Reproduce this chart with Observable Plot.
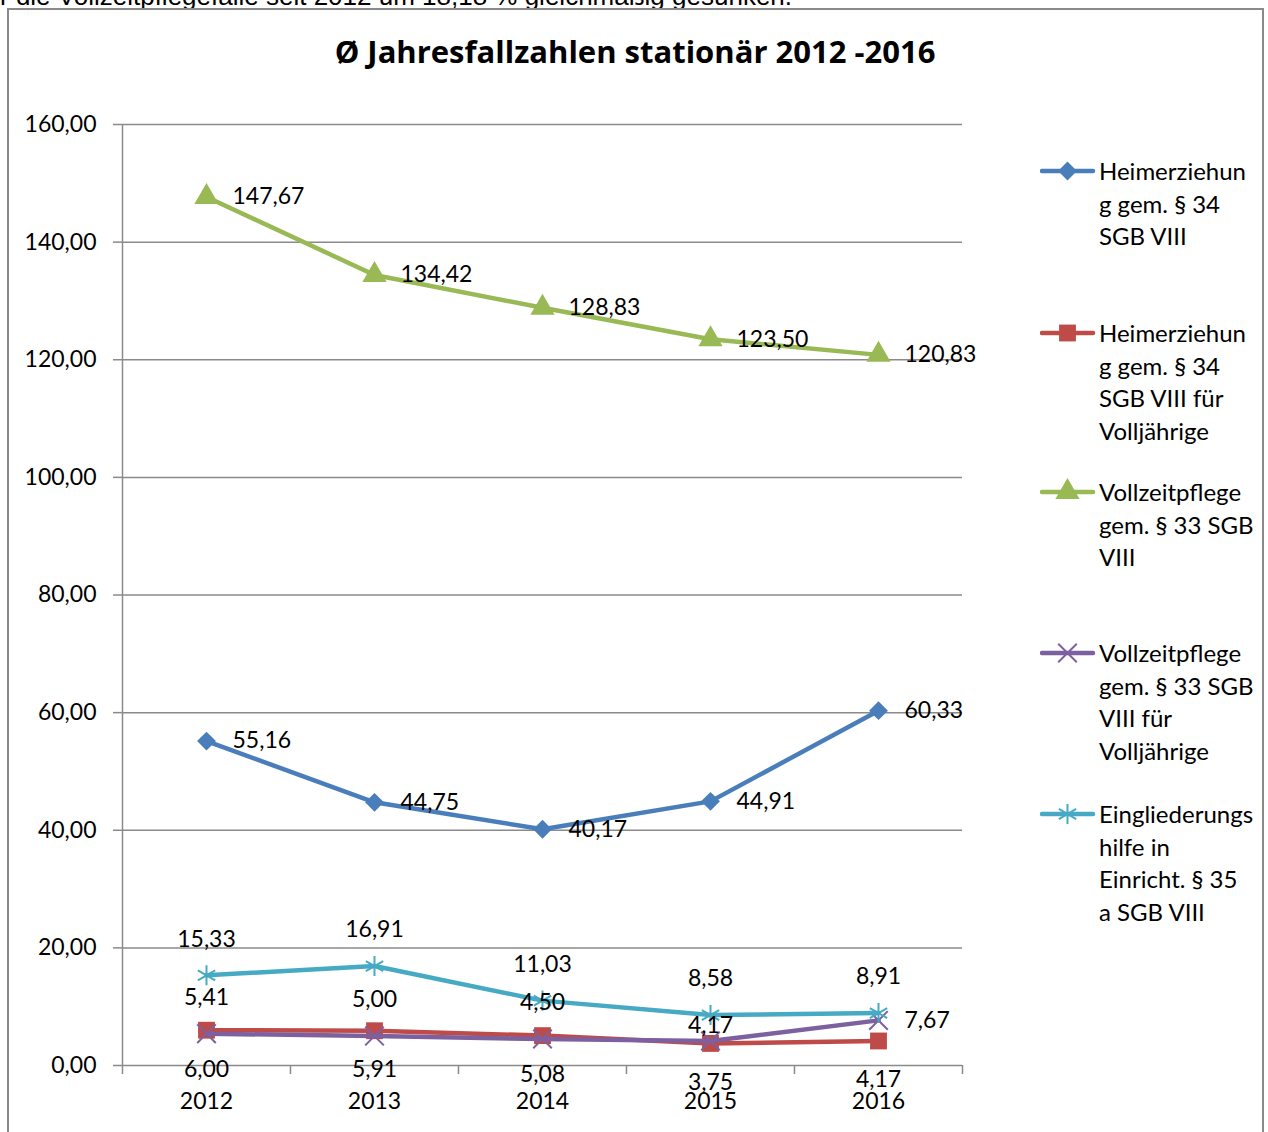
<!DOCTYPE html>
<html>
<head>
<meta charset="utf-8">
<script src="https://cdn.jsdelivr.net/npm/d3@7"></script>
<script src="https://cdn.jsdelivr.net/npm/@observablehq/plot@0.6"></script>
<style>
  html, body { margin: 0; padding: 0; background: #fff; overflow: hidden; }
  #page { position: relative; width: 1268px; height: 1132px; overflow: hidden; font-family: Lato, "Open Sans", sans-serif; color: #000; }
  #lead { position: absolute; left: 0; top: -19px; font-family: "Liberation Sans", Arial, sans-serif; font-size: 26px; line-height: 30px; white-space: nowrap; }
  #frame { position: absolute; left: 7px; top: 8px; width: 1253px; height: 1140px; border: 2px solid #8a8a8a; }
  #chart { position: absolute; left: 0; top: 0; }
  #title { position: absolute; left: 0; width: 1270px; top: 30px; text-align: center; font-family: "Open Sans", Lato, sans-serif; font-weight: bold; font-size: 31px; line-height: 42px; }
  #legend { position: absolute; left: 1040px; top: 0; }
  .item { position: absolute; left: 0; width: 225px; height: 140px; }
  .item svg { position: absolute; left: 0; top: 0; }
  .item .txt { position: absolute; left: 59px; top: 0; font-size: 24px; line-height: 32.5px; white-space: nowrap; }
</style>
</head>
<body>
<div id="page">
  <div id="lead">r die Vollzeitpflegefälle seit 2012 um 18,18 % gleichmäßig gesunken.</div>
  <div id="frame"></div>
  <div id="chart"></div>
  <div id="title">Ø Jahresfallzahlen stationär 2012 -2016</div>
  <div id="legend"></div>
</div>
<script>
// Average yearly case numbers, residential care, 2012–2016
const years = [2012, 2013, 2014, 2015, 2016];
const heim34 = [55.16, 44.75, 40.17, 44.91, 60.33];
const heim34Volljaehrige = [6.00, 5.91, 5.08, 3.75, 4.17];
const vollzeit33 = [147.67, 134.42, 128.83, 123.50, 120.83];
const vollzeit33Volljaehrige = [5.41, 5.00, 4.50, 4.17, 7.67];
const eingliederung35a = [15.33, 16.91, 11.03, 8.58, 8.91];
const yTicks = [0, 20, 40, 60, 80, 100, 120, 140, 160];

const legendLines = {
  heim34: ["Heimerziehun", "g gem. § 34", "SGB VIII"],
  heim34Volljaehrige: ["Heimerziehun", "g gem. § 34", "SGB VIII für", "Volljährige"],
  vollzeit33: ["Vollzeitpflege", "gem. § 33 SGB", "VIII"],
  vollzeit33Volljaehrige: ["Vollzeitpflege", "gem. § 33 SGB", "VIII für", "Volljährige"],
  eingliederung35a: ["Eingliederungs", "hilfe in", "Einricht. § 35", "a SGB VIII"]
};

// Styling per series (drawing order = series order)
const series = [
  {key: "heim34", values: heim34, color: "#4a7ebb", symbol: "diamond2", r: 8.5, filled: true, label: "right"},
  {key: "heim34Volljaehrige", values: heim34Volljaehrige, color: "#be4b48", symbol: "square", r: 9.5, filled: true, label: "below"},
  {key: "vollzeit33", values: vollzeit33, color: "#98b954", symbol: "triangle", r: 9, filled: true, label: "right"},
  {key: "vollzeit33Volljaehrige", values: vollzeit33Volljaehrige, color: "#7d60a0", symbol: "times", r: 8.5, filled: false, label: "above",
   labelAt: {2015: "aboveNear", 2016: "right"}},
  {key: "eingliederung35a", values: eingliederung35a, color: "#46aac5", symbol: "asterisk", r: 9.5, filled: false, label: "above"}
];

const placements = {
  right: {dx: 26, dy: 0, textAnchor: "start"},
  above: {dx: 0, dy: -36, textAnchor: "middle"},
  aboveNear: {dx: 0, dy: -15, textAnchor: "middle"},
  below: {dx: 0, dy: 39, textAnchor: "middle"}
};

const fmt = v => v.toFixed(2).replace(".", ",");

const rows = series.flatMap(s => years.map((year, i) => ({
  series: s.key,
  year,
  value: s.values[i],
  placement: (s.labelAt && s.labelAt[year]) || s.label
})));

const gray = "#8a8a8a";
const boundaries = d3.range(years[0] - 0.5, years[years.length - 1] + 1, 1);

const seriesMarks = series.flatMap(s => {
  const data = rows.filter(d => d.series === s.key);
  return [
    Plot.line(data, {x: "year", y: "value", stroke: s.color, strokeWidth: 4.5, strokeLinejoin: "round", strokeLinecap: "round"}),
    Plot.dot(data, s.filled
      ? {x: "year", y: "value", symbol: s.symbol, r: s.r, fill: s.color, stroke: "none"}
      : {x: "year", y: "value", symbol: s.symbol, r: s.r, fill: "none", stroke: s.color, strokeWidth: 2})
  ];
});

const labelMarks = Object.entries(placements).map(([name, p]) =>
  Plot.text(rows.filter(d => d.placement === name), {
    x: "year", y: "value", text: d => fmt(d.value),
    dx: p.dx, dy: p.dy, textAnchor: p.textAnchor, fill: "#000", fontSize: 23
  })
);

const chart = Plot.plot({
  width: 1268,
  height: 1132,
  marginLeft: 122,
  marginRight: 306,
  marginTop: 124,
  marginBottom: 67,
  style: {fontFamily: "Lato, 'Open Sans', sans-serif", fontSize: "23px", background: "transparent", color: "#000"},
  x: {domain: [years[0] - 0.5, years[years.length - 1] + 0.5]},
  y: {domain: [0, 160]},
  marks: [
    Plot.ruleY(yTicks, {stroke: gray, strokeWidth: 1.5}),
    Plot.ruleX([boundaries[0]], {y1: 0, y2: 160, stroke: gray, strokeWidth: 1.5}),
    Plot.axisY({ticks: yTicks, tickSize: 9, tickPadding: 17, tickFormat: fmt, stroke: gray, strokeWidth: 1.5, fill: "#000", fontSize: 23, label: null}),
    Plot.axisX({ticks: boundaries, tickSize: 9, tickFormat: () => "", stroke: gray, strokeWidth: 1.5, label: null}),
    Plot.axisX({ticks: years, tickSize: 0, tickPadding: 27, tickFormat: d => String(d), fill: "#000", fontSize: 23, label: null}),
    ...seriesMarks,
    ...labelMarks
  ]
});
document.getElementById("chart").appendChild(chart);

// Legend on the right
const legendTops = [155, 317, 476, 637, 798];
const legend = d3.select("#legend");
series.forEach((s, i) => {
  const item = legend.append("div").attr("class", "item").style("top", legendTops[i] + "px");
  const svg = item.append("svg").attr("width", 58).attr("height", 33);
  svg.append("line").attr("x1", 2).attr("x2", 53).attr("y1", 16).attr("y2", 16)
    .attr("stroke", s.color).attr("stroke-width", 4.5).attr("stroke-linecap", "round");
  const symbolType = {
    diamond2: d3.symbolDiamond2, square: d3.symbolSquare, triangle: d3.symbolTriangle,
    times: d3.symbolTimes, asterisk: d3.symbolAsterisk
  }[s.symbol];
  const path = svg.append("path")
    .attr("transform", "translate(27.5,16)")
    .attr("d", d3.symbol(symbolType, Math.PI * s.r * s.r)());
  if (s.filled) path.attr("fill", s.color);
  else path.attr("fill", "none").attr("stroke", s.color).attr("stroke-width", 2);
  item.append("div").attr("class", "txt").html(legendLines[s.key].join("<br>"));
});
</script>
</body>
</html>
